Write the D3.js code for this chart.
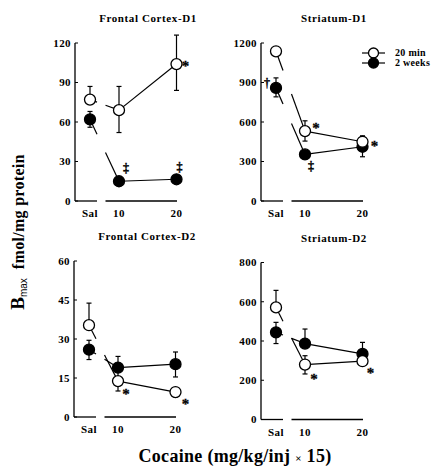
<!DOCTYPE html>
<html>
<head>
<meta charset="utf-8">
<script src="https://cdn.jsdelivr.net/npm/d3@7"></script>
<style>
  body { margin: 0; background: #fff; }
  svg text { font-family: "Liberation Serif", "Times New Roman", serif; fill: #000; }
</style>
</head>
<body>
<svg id="chart" width="440" height="467"></svg>
<script>
/* Bmax of D1/D2 receptors after cocaine, 4 panels */

// --- Data ---
const doses = [0, 10, 20];
const doseLabels = ["Sal", "10", "20"];
const panelTitles = ["Frontal Cortex-D1", "Striatum-D1", "Frontal Cortex-D2", "Striatum-D2"];
const yMaxes = [120, 1200, 60, 800];
const yTickSteps = [30, 300, 15, 200];
const seriesNames = ["20 min", "2 weeks"];

// 20 min withdrawal (open circles)
const min20Mean = [[77, 69, 104], [1137, 531, 450], [35.3, 13.8, 9.6], [571, 280, 297]];
const min20ErrUp = [[10, 18, 22], [0, 78, 45], [8.5, 0, 0], [87, 45, 0]];
const min20ErrDown = [[0, 17, 20], [0, 76, 0], [0, 3.8, 1.9], [0, 48, 0]];

// 2 weeks withdrawal (filled circles)
const wk2Mean = [[62, 15, 16.5], [859, 354, 412], [25.9, 19, 20.3], [444, 387, 334]];
const wk2ErrUp = [[6, 0, 0], [76, 0, 0], [3.6, 4.3, 4.7], [51, 74, 59]];
const wk2ErrDown = [[6, 0, 0], [68, 0, 76], [3.8, 4.2, 4.9], [57, 0, 0]];

// significance marks: [panel, series (0 = 20 min, 1 = 2 weeks), dose index, symbol]
const marks = [
  [0, 0, 2, "*"], [0, 1, 1, "‡"], [0, 1, 2, "‡"],
  [1, 0, 1, "*"], [1, 1, 1, "‡"], [1, 0, 2, "*"], [1, 1, 0, "†"],
  [2, 0, 1, "*"], [2, 0, 2, "*"],
  [3, 0, 1, "*"], [3, 0, 2, "*"]
];
// where each mark sits relative to its point (px)
const markOffsets = [
  [9, -2], [7, -13], [3, -12],
  [11, -7], [6, 11], [12, 0], [-9, -5],
  [8, 9], [10, 8],
  [9, 10], [8, 7]
];

// --- Layout ---
const panelX = [75, 261, 74, 261];
const panelTop = [43, 43, 261, 262.5];
const panelBottom = [201, 201, 417, 419.5];
const R = 5.5;
const FONT_B = "bold";

const svg = d3.select("#chart");

const series = [
  { mean: min20Mean, up: min20ErrUp, down: min20ErrDown, fill: "#fff" },
  { mean: wk2Mean, up: wk2ErrUp, down: wk2ErrDown, fill: "#000" }
];

panelTitles.forEach((title, p) => {
  const x0 = panelX[p];
  const g = svg.append("g");

  const x = d3.scaleLinear().domain(doses).range([x0 + 15, x0 + 44, x0 + 101.5]);
  const y = d3.scaleLinear().domain([0, yMaxes[p]]).range([panelBottom[p], panelTop[p]]);
  const ticks = d3.range(0, yMaxes[p] + 1, yTickSteps[p]);

  // y axis
  g.append("line")
    .attr("x1", x0).attr("x2", x0)
    .attr("y1", y(yMaxes[p])).attr("y2", y(0))
    .attr("stroke", "#000").attr("stroke-width", 1.3);
  g.selectAll(".yt").data(ticks).join("line")
    .attr("x1", x0).attr("x2", x0 + 3)
    .attr("y1", (d) => y(d)).attr("y2", (d) => y(d))
    .attr("stroke", "#000").attr("stroke-width", 1);
  g.selectAll(".yl").data(ticks).join("text")
    .attr("x", x0 - 4).attr("y", (d) => y(d))
    .attr("dy", "0.35em")
    .attr("text-anchor", "end")
    .attr("font-size", "11px").attr("font-weight", FONT_B)
    .attr("letter-spacing", "0.4")
    .text((d) => d);

  // broken x axis
  [[x0, x0 + 22], [x0 + 30.5, x0 + 102]].forEach(([a, b]) => {
    g.append("line")
      .attr("x1", a).attr("x2", b)
      .attr("y1", y(0)).attr("y2", y(0))
      .attr("stroke", "#000").attr("stroke-width", 1.3);
  });
  g.selectAll(".xl").data(doses).join("text")
    .attr("x", (d) => x(d)).attr("y", y(0) + 16)
    .attr("text-anchor", "middle")
    .attr("font-size", "11px").attr("font-weight", FONT_B)
    .attr("letter-spacing", "0.4")
    .text((d, i) => doseLabels[i]);

  // title
  g.append("text")
    .attr("x", x0 + 73).attr("y", panelTop[p] - 21)
    .attr("text-anchor", "middle")
    .attr("font-size", "11px").attr("font-weight", FONT_B)
    .attr("letter-spacing", "0.6")
    .text(title);

  // series: filled first, open on top
  [1, 0].forEach((s) => {
    const ser = series[s];
    const m = ser.mean[p];
    const pts = doses.map((d, i) => [x(d), y(m[i])]);

    // error bars
    doses.forEach((d, i) => {
      [[ser.up[p][i], 1], [ser.down[p][i], -1]].forEach(([e, sign]) => {
        if (!e) return;
        const ye = y(m[i] + sign * e);
        g.append("line")
          .attr("x1", x(d)).attr("x2", x(d))
          .attr("y1", y(m[i])).attr("y2", ye)
          .attr("stroke", "#000").attr("stroke-width", 1.2);
        g.append("line")
          .attr("x1", x(d) - 2.5).attr("x2", x(d) + 2.5)
          .attr("y1", ye).attr("y2", ye)
          .attr("stroke", "#000").attr("stroke-width", 1.2);
      });
    });

    // Sal -> 10 line, interrupted at the axis break
    const lerp = (px) => {
      const t = (px - pts[0][0]) / (pts[1][0] - pts[0][0]);
      return pts[0][1] + t * (pts[1][1] - pts[0][1]);
    };
    const gapA = x0 + 22, gapB = x0 + 30.5;
    const segs = [
      [pts[0], [gapA, lerp(gapA)]],
      [[gapB, lerp(gapB)], pts[1]],
      [pts[1], pts[2]]
    ];
    segs.forEach((sg) => {
      g.append("path")
        .attr("d", d3.line()(sg))
        .attr("stroke", "#000").attr("stroke-width", 1.2)
        .attr("fill", "none");
    });

    g.selectAll(".pt" + s).data(pts).join("circle")
      .attr("cx", (d) => d[0]).attr("cy", (d) => d[1])
      .attr("r", R)
      .attr("fill", ser.fill)
      .attr("stroke", "#000").attr("stroke-width", 1.3);
  });

  // significance marks
  marks.forEach((mk, k) => {
    if (mk[0] !== p) return;
    const ser = series[mk[1]];
    const cx = x(doses[mk[2]]) + markOffsets[k][0];
    const cy = y(ser.mean[p][mk[2]]) + markOffsets[k][1];
    const star = mk[3] === "*";
    g.append("text")
      .attr("x", cx).attr("y", cy)
      .attr("dy", star ? "0.62em" : "0.35em")
      .attr("text-anchor", "middle")
      .attr("font-size", star ? "15px" : "12px")
      .attr("font-weight", FONT_B)
      .attr("stroke", "#000").attr("stroke-width", 0.3)
      .text(mk[3]);
  });
});

// --- Legend (in Striatum-D1 panel) ---
const legend = svg.append("g");
seriesNames.forEach((name, i) => {
  const ly = 53 + i * 10;
  legend.append("line")
    .attr("x1", 362).attr("x2", 385)
    .attr("y1", ly).attr("y2", ly)
    .attr("stroke", "#000").attr("stroke-width", 1.2);
  legend.append("circle")
    .attr("cx", 373.5).attr("cy", ly).attr("r", 5)
    .attr("fill", series[i].fill)
    .attr("stroke", "#000").attr("stroke-width", 1.3);
  legend.append("text")
    .attr("x", 395).attr("y", ly)
    .attr("dy", "0.33em")
    .attr("font-size", "10px").attr("font-weight", FONT_B)
    .attr("letter-spacing", "0.3")
    .text(name);
});

// --- Axis titles ---
const yTitle = svg.append("text")
  .attr("transform", "translate(24,232) rotate(-90)")
  .attr("text-anchor", "middle");
yTitle.append("tspan").attr("font-size", "19px").attr("font-weight", FONT_B).text("B");
yTitle.append("tspan")
  .attr("font-size", "10px")
  .attr("font-family", "'Liberation Sans', Arial, sans-serif")
  .attr("dy", 3).text("max");
yTitle.append("tspan")
  .attr("font-size", "16px").attr("font-weight", FONT_B)
  .attr("dy", -3).attr("dx", 9)
  .attr("letter-spacing", "0.3")
  .text("fmol/mg protein");

const xTitle = svg.append("text")
  .attr("x", 235).attr("y", 462)
  .attr("text-anchor", "middle")
  .attr("font-weight", FONT_B)
  .attr("letter-spacing", "0.3");
xTitle.append("tspan").attr("font-size", "18px").text("Cocaine (mg/kg/inj ");
xTitle.append("tspan").attr("font-size", "11px").text("×");
xTitle.append("tspan").attr("font-size", "18px").text(" 15)");
</script>
</body>
</html>
